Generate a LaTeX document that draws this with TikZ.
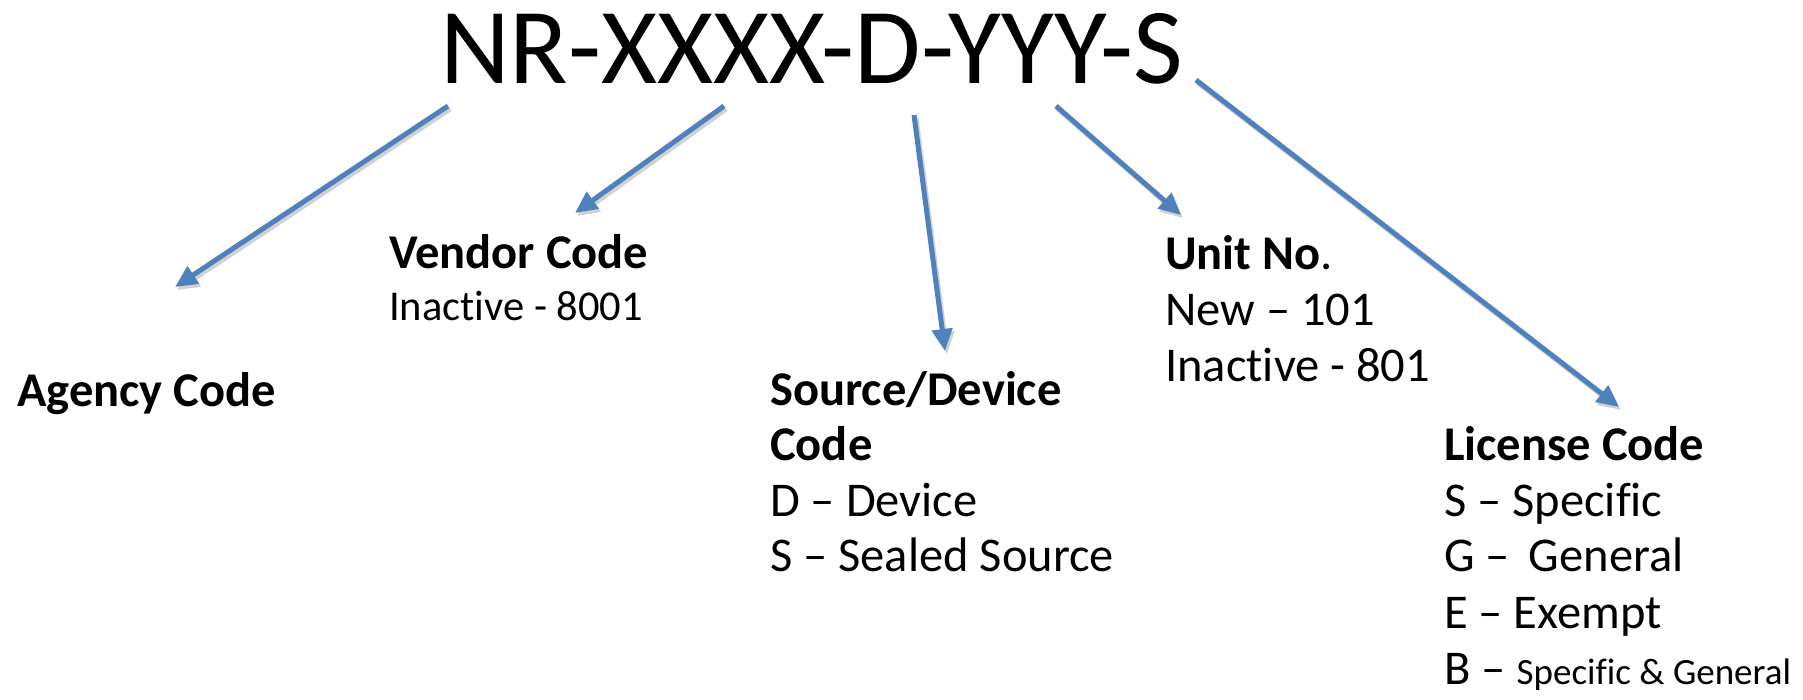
\documentclass[tikz,border=0pt]{standalone}
\usepackage{fontspec}
\setmainfont{Carlito}[Ligatures={NoCommon}]
\usetikzlibrary{arrows.meta}
\definecolor{arrowblue}{HTML}{4F81BD}
\tikzset{
  lbl/.style={anchor=base west, inner sep=0pt, font=\fontsize{48.5}{56}\selectfont},
  lblsmall/.style={anchor=base west, inner sep=0pt, font=\fontsize{42.5}{50}\selectfont},
  title/.style={anchor=base west, inner sep=0pt, font=\fontsize{108}{120}\selectfont},
  pointer/.style={draw=arrowblue, line width=5pt, -{Triangle[length=22pt,width=20pt]}},
  shadowline/.style={draw=black!18, line width=5pt, -{Triangle[length=22pt,width=20pt]}}
}
\begin{document}
\begin{tikzpicture}[x=1pt,y=-1pt]
\useasboundingbox[fill=white] (0,0) rectangle (1803,699);

\node[title] (code) at (440,83) {NR-XXXX-D-YYY-S};

\node[lbl] (agency) at (17,406) {\textbf{Agency Code}};

\node[lbl] (vendor) at (389,268) {\textbf{Vendor Code}};
\node[lblsmall] (vendor1) at (389,320) {Inactive - 8001};

\node[lbl] (source) at (770,405) {\textbf{Source/Device}};
\node[lbl] (source1) at (770,460) {\textbf{Code}};
\node[lbl] (source2) at (770,516) {D -- Device};
\node[lbl] (source3) at (770,571) {S -- Sealed Source};

\node[lbl] (unit) at (1165,269) {\textbf{Unit No}.};
\node[lbl] (unit1) at (1165,325) {New -- 101};
\node[lbl] (unit2) at (1165,381) {Inactive - 801};

\node[lbl] (lic) at (1444,460) {\textbf{License Code}};
\node[lbl] (lic1) at (1444,516) {S -- Specific};
\node[lbl] (lic2) at (1444,571) {G --\, General};
\node[lbl] (lic3) at (1444,628) {E -- Exempt};
\node[lbl] (lic4) at (1444,684) {B -- {\fontsize{37}{44}\selectfont Specific \& General}};

\coordinate (aS) at (448,106);  \coordinate (aE) at (175,287);
\coordinate (vS) at (724,106);  \coordinate (vE) at (575,213);
\coordinate (sS) at (914,115);  \coordinate (sE) at (945,351);
\coordinate (uS) at (1056,106); \coordinate (uE) at (1181,215);
\coordinate (lS) at (1196,80);  \coordinate (lE) at (1619,407);

\foreach \s/\e in {aS/aE, vS/vE, sS/sE, uS/uE, lS/lE}{
  \draw[shadowline, transform canvas={shift={(2pt,-3pt)}}] (\s) -- (\e);
}
\foreach \s/\e in {aS/aE, vS/vE, sS/sE, uS/uE, lS/lE}{
  \draw[pointer] (\s) -- (\e);
}
\end{tikzpicture}
\end{document}
